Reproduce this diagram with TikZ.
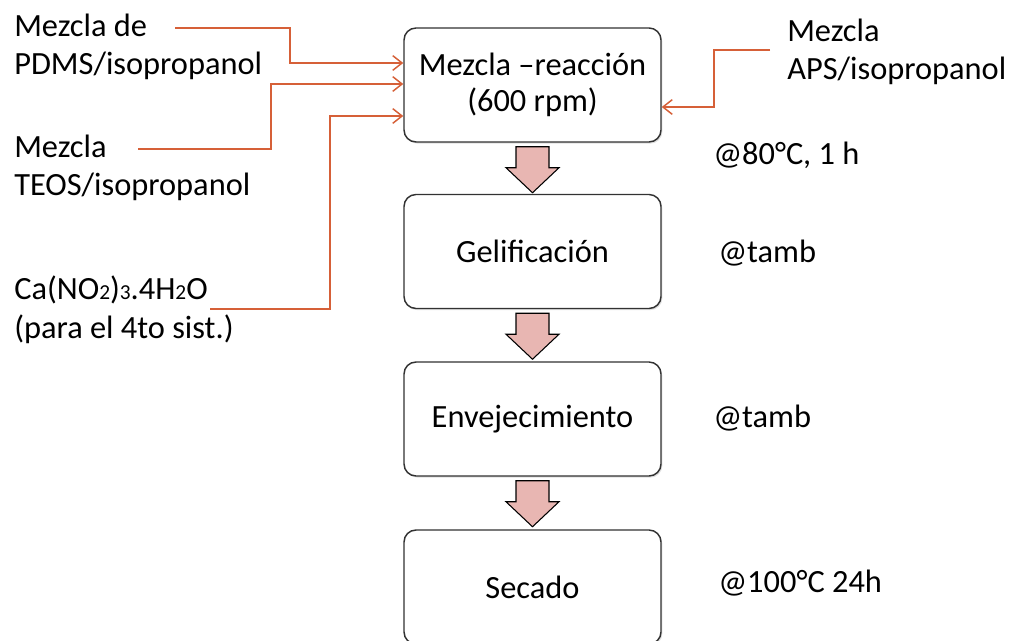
\documentclass[tikz,border=0pt]{standalone}
\usepackage{fontspec}
\setmainfont{Carlito}
\usetikzlibrary{arrows.meta,calc,shadows}
\definecolor{connc}{RGB}{214,96,56}
\definecolor{arrfill}{RGB}{232,182,178}
\definecolor{boxline}{RGB}{50,50,50}
\tikzset{
  x=0.75pt, y=-0.75pt,
  lbl/.style={inner sep=0pt, anchor=base west, align=left, font=\fontsize{24.3}{28.5}\selectfont},
  procbox/.style={draw=boxline, line width=1.1pt, rounded corners=9pt, fill=white,
    minimum width=192.75pt, minimum height=85.5pt, align=center,
    font=\fontsize{24.3}{27}\selectfont,
    drop shadow={opacity=0.25, shadow xshift=1pt, shadow yshift=-1.2pt}},
  conn/.style={draw=connc, line width=1.1pt, -{Straight Barb[length=7pt,width=11pt,line width=1.1pt]}},
  flarrow/.style={draw=black, line width=0.8pt, fill=arrfill, line join=miter}
}
\newcommand\flowarr[1]{%
  \draw[flarrow] ($(#1.south)+(-16.5,4)$) -- ++(33,0) -- ++(0,21) -- ++(10,0)
    -- ++(-26.5,25) -- ++(-26.5,-25) -- ++(10,0) -- cycle;}
\newcommand\smalldig[1]{{\fontsize{16}{16}\selectfont #1}}
\begin{document}
\begin{tikzpicture}
\useasboundingbox[clip] (0,0) rectangle (1009,641);
\fill[white] (0,0) rectangle (1009,641);
% process boxes
\node[procbox] (b1) at (532.5,85) {Mezcla –reacción\\(600 rpm)};
\node[procbox] (b2) at (532.5,251.5) {Gelificación};
\node[procbox] (b3) at (532.5,419) {Envejecimiento};
\node[procbox] (b4) at (532.5,587) {Secado};
% block arrows
\flowarr{b1}
\flowarr{b2}
\flowarr{b3}
% input labels (base = last line)
\node[lbl] (pdms) at (14,75) {Mezcla de\\PDMS/isopropanol};
\node[lbl] (teos) at (14,196) {Mezcla\\TEOS/isopropanol};
\node[lbl] (ca) at (14,338) {Ca(NO\smalldig{2})\smalldig{3}.4H\smalldig{2}O\\(para el 4to sist.)};
\node[lbl] (aps) at (787,80) {Mezcla\\APS/isopropanol};
% conditions
\node[lbl] (c1) at (713,165) {@80°C, 1 h};
\node[lbl] (c2) at (718,263) {@tamb};
\node[lbl] (c3) at (713,427) {@tamb};
\node[lbl] (c4) at (718,592) {@100°C 24h};
% connector start points
\coordinate (pdmsS) at (175,28);
\coordinate (teosS) at (138,149);
\coordinate (caS) at (210,309);
\coordinate (apsS) at (770,50);
\draw[conn] (pdmsS) -- ++(115,0) |- ([yshift=16.5pt]b1.west);
\draw[conn] (teosS) -- ++(133,0) |- ([yshift=0.75pt]b1.west);
\draw[conn] (caS) -- ++(120,0) |- ([yshift=-23.25pt]b1.west);
\draw[conn] (apsS) -- ++(-56,0) |- ([yshift=-16.5pt]b1.east);
\end{tikzpicture}
\end{document}
